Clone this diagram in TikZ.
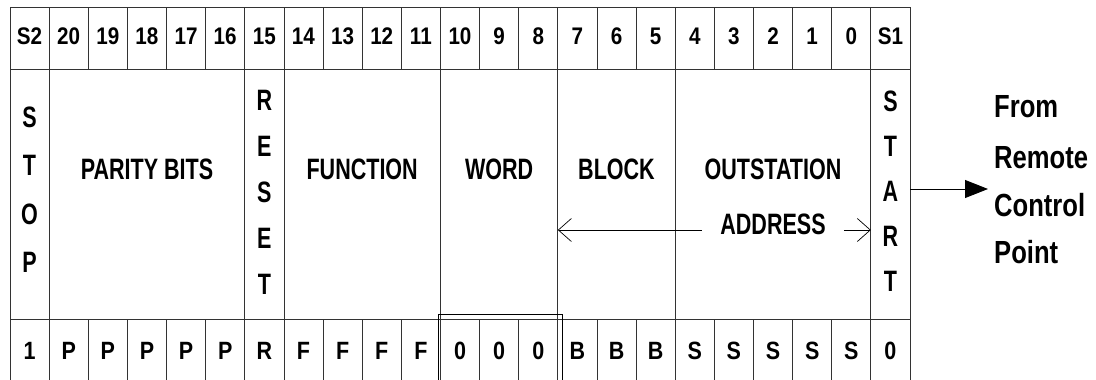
\documentclass[tikz,border=0pt]{standalone}
\usepackage{fontspec}
\newfontfamily\headfont{Liberation Sans}[FakeStretch=0.86]
\newfontfamily\fieldfont{Liberation Sans}[FakeStretch=0.73]
\newfontfamily\sidefont{Liberation Sans}[FakeStretch=0.80]
\usetikzlibrary{arrows.meta}

\newcommand{\cw}{39.13}

\tikzset{
  gridline/.style={line width=0.8pt, black!80},
  bitnum/.style={font=\headfont\bfseries\fontsize{24}{24}\selectfont, inner sep=0pt},
  bitval/.style={font=\headfont\bfseries\fontsize{25}{25}\selectfont, inner sep=0pt},
  fieldlab/.style={font=\fieldfont\bfseries\fontsize{29.5}{29.5}\selectfont, inner sep=0pt},
  sidelab/.style={font=\sidefont\bfseries\fontsize{32}{32}\selectfont, inner sep=0pt, anchor=base west},
}

\begin{document}
\begin{tikzpicture}[x=1pt, y=-1pt]
    \useasboundingbox (0,0) rectangle (1096,380);

    % Frame and row lines
    \draw[gridline] (10,380) -- (10,7) -- (910,7) -- (910,380);
    \draw[gridline] (10,69) -- (910,69);
    \draw[gridline] (10,319) -- (910,319);

    % Bit dividers in top and bottom rows
    \foreach \i in {1,...,22} {
        \draw[gridline] ({10+\i*\cw},7) -- ({10+\i*\cw},69);
        \draw[gridline] ({10+\i*\cw},319) -- ({10+\i*\cw},380);
    }
    % Field dividers in middle row
    \foreach \i in {1,6,7,11,14,17,22}
        \draw[gridline] ({10+\i*\cw},69) -- ({10+\i*\cw},319);

    % Bit numbers
    \foreach \lab [count=\i from 0] in {S2,20,19,18,17,16,15,14,13,12,11,10,9,8,7,6,5,4,3,2,1,0,S1}
        \node[bitnum] (num\i) at ({10+(\i+0.5)*\cw},36) {\lab};

    % Bit values
    \foreach \lab [count=\i from 0] in {1,P,P,P,P,P,R,F,F,F,F,0,0,0,B,B,B,S,S,S,S,S,0}
        \node[bitval] (val\i) at ({10+(\i+0.5)*\cw},351) {\lab};

    % Word bits highlighted
    \draw[line width=0.9pt] (438,381) -- (438,314) -- (562,314) -- (562,381);

    % Vertical field names
    \foreach \ch [count=\k from 0] in {S,T,O,P}
        \node[fieldlab] (stop\k) at ({10+0.5*\cw},{117+48.5*\k}) {\ch};
    \foreach \ch [count=\k from 0] in {R,E,S,E,T}
        \node[fieldlab] (reset\k) at ({10+6.5*\cw},{100+46*\k}) {\ch};
    \foreach \ch [count=\k from 0] in {S,T,A,R,T}
        \node[fieldlab] (start\k) at ({10+22.5*\cw},{101+45*\k}) {\ch};

    % Field names
    \node[fieldlab] (parity) at ({10+3.5*\cw},169) {PARITY BITS};
    \node[fieldlab] (func) at ({10+9*\cw},169) {FUNCTION};
    \node[fieldlab] (word) at ({10+12.5*\cw},169) {WORD};
    \node[fieldlab] (block) at ({10+15.5*\cw},169) {BLOCK};
    \node[fieldlab] (outst) at ({10+19.5*\cw},169) {OUTSTATION};
    \node[fieldlab, inner xsep=18pt] (addr) at ({10+19.5*\cw},224) {ADDRESS};

    % Address span arrow
    \coordinate (spanL) at ({10+14*\cw},230);
    \coordinate (spanR) at ({10+22*\cw},230);
    \draw[line width=0.7pt, {Straight Barb[length=13pt,width=23pt]}-] (spanL) -- (addr.west |- spanL);
    \draw[line width=0.7pt, -{Straight Barb[length=13pt,width=23pt]}] (addr.east |- spanR) -- (spanR);

    % Source
    \node[sidelab] (from) at (994,117) {From};
    \node[sidelab] (remote) at (994,168) {Remote};
    \node[sidelab] (control) at (994,216) {Control};
    \node[sidelab] (point) at (994,263) {Point};
    \coordinate (srcA) at (910,189);
    \coordinate (srcB) at (988,189);
    \draw[line width=0.9pt, -{Triangle[length=23pt,width=18pt]}] (srcA) -- (srcB);
\end{tikzpicture}
\end{document}
